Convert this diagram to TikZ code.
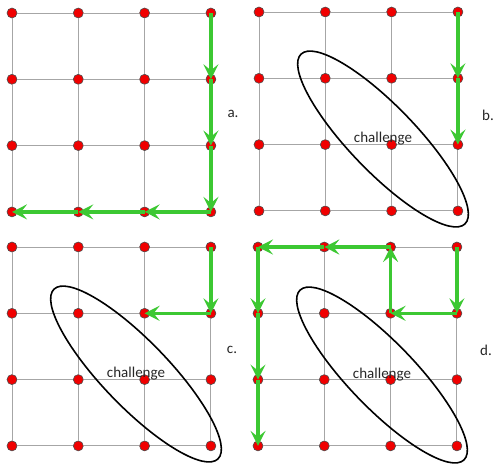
\documentclass[tikz,border=0pt]{standalone}
\usepackage{fontspec}
\setmainfont{Carlito}
\usetikzlibrary{arrows.meta}
\definecolor{dotred}{RGB}{240,0,0}
\definecolor{pathgreen}{RGB}{60,200,50}

\begin{document}
\begin{tikzpicture}[x=1pt, y=-1pt,
    dot/.style={circle, draw=black!70, fill=dotred, minimum size=10pt, inner sep=0pt, line width=0.6pt},
    grid line/.style={draw=black!35, line width=1pt},
    move/.style={draw=pathgreen, line width=3.2pt, -{Stealth[length=15pt, width=15pt, inset=6pt]}},
    region/.style={draw=black, line width=1.6pt},
    tag/.style={font=\fontsize{15}{18}\selectfont, text=black!85, inner sep=0pt}]
    \useasboundingbox (0,0) rectangle (494,464);

    % the four grids of dots
    \foreach \p/\ox/\oy in {a/12/13, b/259/12, c/12/247, d/258/247} {
        \foreach \i in {0,...,3}
            \foreach \j in {0,...,3}
                \node[dot] (\p\i\j) at (\ox+66.3*\i, \oy+66.3*\j) {};
    }
    \foreach \p in {a,b,c,d}
        \foreach \i in {0,...,3}
            \foreach \j/\k in {0/1, 1/2, 2/3} {
                \draw[grid line] (\p\i\j) -- (\p\i\k);
                \draw[grid line] (\p\j\i) -- (\p\k\i);
            }

    % a.
    \draw[move] (a30.center) -- (a31.center);
    \draw[move] (a31.center) -- (a32.center);
    \draw[move] (a32.center) -- (a33.center);
    \draw[move] (a33.center) -- (a23.center);
    \draw[move] (a23.center) -- (a13.center);
    \draw[move] (a13.center) -- (a03.center);
    \node[tag] (la) at (233,114) {a.};

    % b.
    \draw[move] (b30.center) -- (b31.center);
    \draw[move] (b31.center) -- (b32.center);
    \node[tag] (bnote) at (383,139) {challenge};
    \draw[region, rotate around={-46:(bnote.center)}] (bnote.center) ellipse [x radius=118, y radius=33];
    \node[tag] (lb) at (488,115) {b.};

    % c.
    \draw[move] (c30.center) -- (c31.center);
    \draw[move] (c31.center) -- (c21.center);
    \node[tag] (cnote) at (136,374) {challenge};
    \draw[region, rotate around={-46:(cnote.center)}] (cnote.center) ellipse [x radius=118, y radius=33];
    \node[tag] (lc) at (232,350) {c.};

    % d.
    \draw[move] (d30.center) -- (d31.center);
    \draw[move] (d31.center) -- (d21.center);
    \draw[move] (d21.center) -- (d20.center);
    \draw[move] (d20.center) -- (d10.center);
    \draw[move] (d10.center) -- (d00.center);
    \draw[move] (d00.center) -- (d01.center);
    \draw[move] (d01.center) -- (d02.center);
    \draw[move] (d02.center) -- (d03.center);
    \node[tag] (dnote) at (382,375) {challenge};
    \draw[region, rotate around={-46:(dnote.center)}] (dnote.center) ellipse [x radius=118, y radius=33];
    \node[tag] (ld) at (486,350) {d.};
\end{tikzpicture}
\end{document}
